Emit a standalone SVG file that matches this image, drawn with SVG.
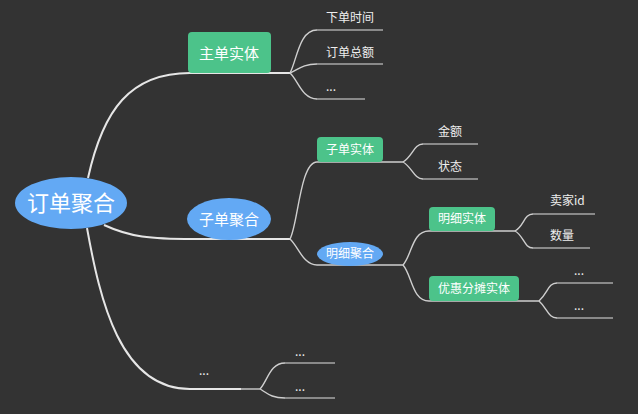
<svg xmlns="http://www.w3.org/2000/svg" width="638" height="414" viewBox="0 0 638 414">
<style>
text{font-family:"Noto Sans CJK SC","Noto Sans",sans-serif;fill:#ffffff}
.lf{font-size:12px;fill:#eeeeee}
.m{font-size:15px;text-anchor:middle}
.s{font-size:12px;text-anchor:middle}
.g{fill:#4cc38a}
.b{fill:#63a9f4}
.c{fill:none;stroke:#e6e6e6;stroke-width:2}
.c2{fill:none;stroke:#cfcfcf;stroke-width:1.4}
.u{fill:none;stroke:#a8a8a8;stroke-width:1.4}
</style>
<rect width="638" height="414" fill="#333333"/>
<g id="connectors">
<path class="c" d="M88 178 C103 110 130 73 190 73 L290 73"/>
<path class="c" d="M104 225 C130 237 150 239 193 239 L290 239"/>
<path class="c" d="M87 228 C100 300 120 389 190 389 L241 389"/>
<path class="c2" d="M241 389 L260 389"/>
<path class="c2" d="M290 73 C297 60 299 30 317 30"/>
<path class="c2" d="M290 73 C298 70 302 64 317 64"/>
<path class="c2" d="M290 73 C298 80 302 99 317 99"/>
<path class="u" d="M317 30 L383 30 M317 64 L383 64 M317 99 L365 99"/>
<path class="c2" d="M290 239 C298 225 300 162 317 162 L403 162"/>
<path class="c2" d="M290 239 C298 246 303 265 317 265 L403 265"/>
<path class="c2" d="M403 162 C412 157 414 144 423 144 M403 162 C412 167 414 179 423 179"/>
<path class="u" d="M423 144 L478 144 M423 179 L478 179"/>
<path class="c2" d="M403 265 C412 255 412 231 429 231 L515 231"/>
<path class="c2" d="M403 265 C412 275 412 301 429 301 L539 301"/>
<path class="c2" d="M515 231 C524 226 524 214 533 214 M515 231 C524 236 524 248 533 248"/>
<path class="u" d="M533 214 L595 214 M533 248 L590 248"/>
<path class="c2" d="M539 301 C548 293 548 283 557 283 M539 301 C548 309 548 318 557 318"/>
<path class="u" d="M557 283 L613 283 M557 318 L613 318"/>
<path class="c2" d="M260 389 C268 380 270 363 285 363 M260 389 C268 394 272 398 285 398"/>
<path class="u" d="M285 363 L335 363 M285 398 L335 398"/>
</g>
<g id="root"><ellipse class="b" cx="71" cy="203" rx="56" ry="26"/><text x="71" y="211" font-size="22" text-anchor="middle">订单聚合</text></g>
<g id="n-zhudan"><rect class="g" x="188" y="32" width="83" height="41" rx="4"/><text class="m" x="229" y="59">主单实体</text></g>
<g id="l-xiadan"><text class="lf" x="326" y="22">下单时间</text></g>
<g id="l-zonge"><text class="lf" x="326" y="57">订单总额</text></g>
<g id="l-dots1"><text class="lf" x="326" y="91">...</text></g>
<g id="n-zidanjuhe"><ellipse class="b" cx="229" cy="219" rx="42" ry="21"/><text class="m" x="229" y="225">子单聚合</text></g>
<g id="n-zidanshiti"><rect class="g" x="317" y="137" width="66" height="25" rx="4"/><text class="s" x="350" y="154">子单实体</text></g>
<g id="l-jine"><text class="lf" x="438" y="136">金额</text></g>
<g id="l-zhuangtai"><text class="lf" x="438" y="171">状态</text></g>
<g id="n-mingxijuhe"><ellipse class="b" cx="350" cy="254" rx="33" ry="12"/><text class="s" x="350" y="258">明细聚合</text></g>
<g id="n-mingxishiti"><rect class="g" x="429" y="207" width="66" height="24" rx="4"/><text class="s" x="462" y="223">明细实体</text></g>
<g id="l-maijia"><text class="lf" x="550" y="205">卖家id</text></g>
<g id="l-shuliang"><text class="lf" x="550" y="240">数量</text></g>
<g id="n-youhui"><rect class="g" x="429" y="276" width="90" height="25" rx="4"/><text class="s" x="474" y="293">优惠分摊实体</text></g>
<g id="l-dots2"><text class="lf" x="574" y="275">...</text></g>
<g id="l-dots3"><text class="lf" x="574" y="310">...</text></g>
<g id="n-dots"><text class="lf" x="199" y="375">...</text></g>
<g id="l-dots4"><text class="lf" x="295" y="356">...</text></g>
<g id="l-dots5"><text class="lf" x="295" y="391">...</text></g>
</svg>
